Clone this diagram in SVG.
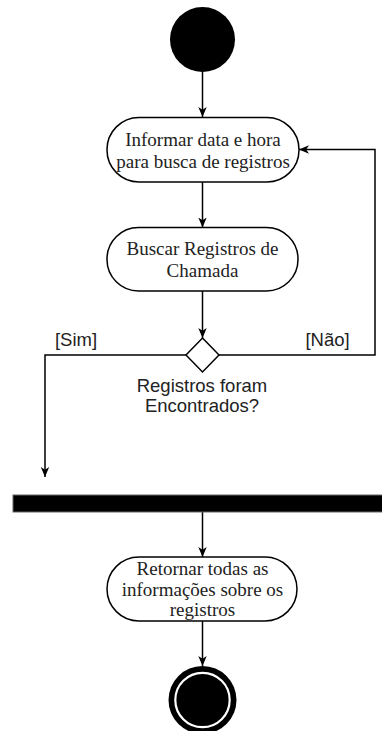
<svg xmlns="http://www.w3.org/2000/svg" width="382" height="731" viewBox="0 0 382 731">
  <style>
    .action { fill: #ffffff; stroke: #000000; stroke-width: 1.5; }
    .edge { fill: none; stroke: #000000; stroke-width: 1.5; }
    .serif { font-family: "Liberation Serif", "Times New Roman", serif; font-size: 19px; fill: #222222; text-anchor: middle; }
    .sans { font-family: "Liberation Sans", Arial, sans-serif; font-size: 18.5px; fill: #222222; text-anchor: middle; }
  </style>
  <defs>
    <marker id="arrow" viewBox="0 0 10 10" refX="10" refY="5" markerWidth="10" markerHeight="10" markerUnits="userSpaceOnUse" orient="auto">
      <path d="M0,0.8 L10,5 L0,9.2 L2.8,5 Z" fill="#000000"/>
    </marker>
  </defs>
  <rect width="382" height="731" fill="#ffffff"/>

  <!-- connectors -->
  <g id="connectors">
    <path class="edge" d="M202.5,72 V117" marker-end="url(#arrow)"/>
    <path class="edge" d="M202.5,182 V227.5" marker-end="url(#arrow)"/>
    <path class="edge" d="M202.5,291 V338" marker-end="url(#arrow)"/>
    <path class="edge" d="M219,355 H375 V149.5 H299" marker-end="url(#arrow)"/>
    <path class="edge" d="M186,355 H45 V477" marker-end="url(#arrow)"/>
    <path class="edge" d="M202.5,512 V557" marker-end="url(#arrow)"/>
    <path class="edge" d="M202.5,621 V666" marker-end="url(#arrow)"/>
    <text class="sans" x="76" y="346">[Sim]</text>
    <text class="sans" x="327.5" y="346">[Não]</text>
  </g>

  <!-- initial state -->
  <g id="start">
    <circle cx="202.5" cy="39.5" r="32.5" fill="#000000"/>
  </g>

  <g id="informar">
    <rect class="action" x="107" y="117.5" width="192" height="64.5" rx="32" ry="32"/>
    <text class="serif" x="203" y="146">Informar data e hora</text>
    <text class="serif" x="203" y="167.5">para busca de registros</text>
  </g>

  <g id="buscar">
    <rect class="action" x="107" y="227.5" width="191" height="63.5" rx="31.5" ry="31.5"/>
    <text class="serif" x="202.5" y="255">Buscar Registros de</text>
    <text class="serif" x="202.5" y="276.5">Chamada</text>
  </g>

  <g id="decisao">
    <polygon points="202.5,338 219,355 202.5,372 186,355" fill="#ffffff" stroke="#000000" stroke-width="1.5"/>
    <text class="sans" x="202" y="391.5">Registros foram</text>
    <text class="sans" x="202" y="411.5">Encontrados?</text>
  </g>

  <g id="barra">
    <rect x="13" y="495" width="372" height="17" fill="#000000" stroke="#666666" stroke-width="1"/>
  </g>

  <g id="retornar">
    <rect class="action" x="107" y="557" width="190" height="64" rx="32" ry="32"/>
    <text class="serif" x="202.5" y="574.5">Retornar todas as</text>
    <text class="serif" x="202.5" y="595.5">informações sobre os</text>
    <text class="serif" x="202.5" y="615.5">registros</text>
  </g>

  <!-- final state -->
  <g id="fim">
    <circle cx="202.5" cy="700" r="34" fill="#000000"/>
    <circle cx="202.5" cy="700" r="27.2" fill="none" stroke="#ffffff" stroke-width="2.2"/>
  </g>
</svg>
